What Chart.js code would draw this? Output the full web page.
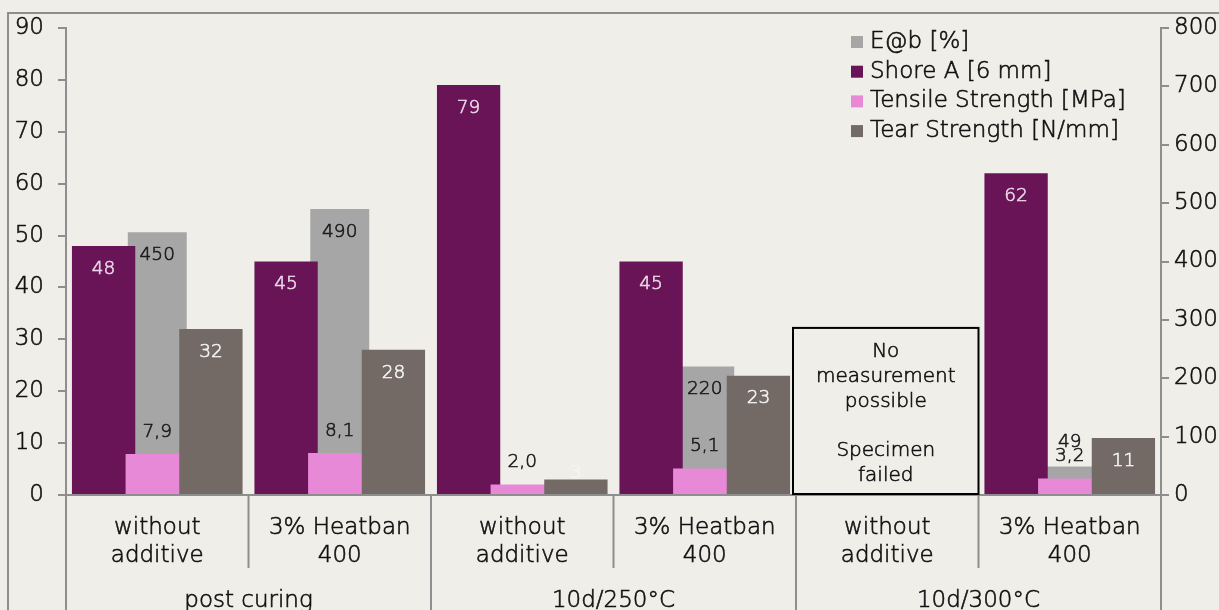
<!DOCTYPE html>
<html>
<head>
<meta charset="utf-8">
<script src="https://cdn.jsdelivr.net/npm/chart.js@4.4.1/dist/chart.umd.min.js"></script>
<style>
  html, body { margin: 0; padding: 0; overflow: hidden; background: #efeee9; }
  #wrap { width: 1262px; height: 640px; position: relative; }
</style>
</head>
<body>
<div id="wrap"><canvas id="chart"></canvas></div>
<script>
// data
const categories = [
    ['without', 'additive'], ['3% Heatban', '400'],
    ['without', 'additive'], ['3% Heatban', '400'],
    ['without', 'additive'], ['3% Heatban', '400']
];
const groups = ['post curing', '10d/250°C', '10d/300°C'];
const perGroup = 2;

const elongation = [450, 490, null, 220, null, 49];     // E@b [%] (right axis)
const shoreA = [48, 45, 79, 45, null, 62];
const tensile = [7.9, 8.1, 2.0, 5.1, null, 3.2];
const tear = [32, 28, 3, 23, null, 11];

const leftTicks = [0, 10, 20, 30, 40, 50, 60, 70, 80, 90];
const rightTicks = [0, 100, 200, 300, 400, 500, 600, 700, 800];

const noteIndex = 4;
const noteLines = ['No', 'measurement', 'possible', '', 'Specimen', 'failed'];

const FONT = '"DejaVu Sans", sans-serif';
const W = 200;
const TEXT = '#111111';
const AXIS = '#8e8e8e';
const STROKE = 0.6;   // thickens the extra-light face a little

// draw bars in dataset order so later series sit on top (Excel style overlap)
const barOrder = {
    id: 'barOrder',
    beforeDatasetsDraw(chart) {
        chart.getSortedVisibleDatasetMetas().slice()
            .sort((a, b) => a.index - b.index)
            .forEach(m => m.controller.draw());
        return false;
    }
};

const fmt = (v, dec) => dec ? v.toFixed(dec).replace('.', ',') : String(Math.round(v));
const font = size => W + ' ' + size + 'px ' + FONT;

function text(ctx, t, x, y, color) {
    ctx.fillStyle = color;
    ctx.strokeStyle = color;
    ctx.lineWidth = STROKE;
    ctx.fillText(t, x, y);
    ctx.strokeText(t, x, y);
}

const extras = {
    id: 'extras',
    afterDraw(chart) {
        const ctx = chart.ctx;
        const x = chart.scales.x, y = chart.scales.y;
        const area = chart.chartArea;
        const step = (area.right - area.left) / categories.length;
        ctx.save();

        // outer frame
        ctx.strokeStyle = AXIS;
        ctx.lineWidth = 2;
        ctx.beginPath();
        ctx.moveTo(8, chart.height + 5);
        ctx.lineTo(8, 13);
        ctx.lineTo(chart.width - 8, 13);
        ctx.stroke();

        // category dividers + group labels
        for (let i = 0; i <= categories.length; i++) {
            const px = area.left + i * step;
            const isGroup = i % perGroup === 0;
            ctx.beginPath();
            ctx.moveTo(px, area.bottom);
            ctx.lineTo(px, isGroup ? chart.height : area.bottom + 73);
            ctx.stroke();
        }
        ctx.font = font(23);
        ctx.textAlign = 'center';
        ctx.textBaseline = 'middle';
        groups.forEach((g, i) => {
            const cx = area.left + (i * perGroup + perGroup / 2) * step;
            text(ctx, g, cx, area.bottom + 106, TEXT);
        });

        // value labels
        chart.data.datasets.forEach((ds, di) => {
            const meta = chart.getDatasetMeta(di);
            ctx.font = font(18.5);
            meta.data.forEach((el, i) => {
                const v = ds.data[i];
                if (v === null || v === undefined) return;
                const h = el.base - el.y;
                let ly;
                if (ds.labelPos === 'outside') ly = el.y - 22;
                else if (ds.labelPos === 'insideOrAbove') ly = h < 40 ? el.y - 24 : el.y + 23;
                else ly = Math.min(el.y + 23, el.base - 21);
                text(ctx, fmt(v, ds.decimals), el.x, ly, ds.labelColor);
            });
        });

        // note box for failed specimen
        const nx = x.getPixelForValue(noteIndex);
        const left = nx - step / 2 - 3, right = nx + step / 2;
        const top = y.getPixelForValue(32.2);
        ctx.strokeStyle = '#000';
        ctx.lineWidth = 2;
        ctx.strokeRect(left, top, right - left, area.bottom - 1 - top);
        ctx.font = font(20);
        noteLines.forEach((t, i) => text(ctx, t, (left + right) / 2, top + 24 + i * 24.7, TEXT));

        // legend inside the plot
        ctx.textAlign = 'left';
        ctx.font = font(23);
        chart.data.datasets.forEach((ds, i) => {
            const ry = 42 + i * 29.7;
            ctx.fillStyle = ds.backgroundColor;
            ctx.fillRect(851, ry - 6, 12, 12);
            text(ctx, ds.label, 870, ry, TEXT);
        });
        ctx.restore();
    }
};

const grpOpts = { categoryPercentage: 0.882, barPercentage: 1.18 };
const tickFont = { family: FONT, size: 23, weight: W };

new Chart(document.getElementById('chart'), {
    type: 'bar',
    data: {
        labels: categories,
        datasets: [
            {
                label: 'E@b [%]', data: elongation, yAxisID: 'y1',
                backgroundColor: '#a6a6a6', grouped: false,
                categoryPercentage: 0.323, barPercentage: 1,
                labelColor: '#1a1a1a', labelPos: 'insideOrAbove', decimals: 0
            },
            {
                label: 'Shore A [6 mm]', data: shoreA, yAxisID: 'y',
                backgroundColor: '#6a1458', ...grpOpts,
                labelColor: '#ead6e6', labelPos: 'inside', decimals: 0
            },
            {
                label: 'Tensile Strength [MPa]', data: tensile, yAxisID: 'y',
                backgroundColor: '#e889d8', ...grpOpts,
                labelColor: '#1a1a1a', labelPos: 'outside', decimals: 1
            },
            {
                label: 'Tear Strength [N/mm]', data: tear, yAxisID: 'y',
                backgroundColor: '#736a65', ...grpOpts,
                labelColor: '#f4f4f4', labelPos: 'inside', decimals: 0
            }
        ]
    },
    options: {
        responsive: true,
        maintainAspectRatio: false,
        animation: false,
        layout: { padding: { top: 28, left: 0, right: 0, bottom: 0 } },
        plugins: { legend: { display: false }, tooltip: { enabled: false } },
        scales: {
            x: {
                grid: { display: false, drawTicks: false },
                border: { color: AXIS, width: 2 },
                ticks: {
                    color: TEXT, padding: 19, maxRotation: 0, autoSkip: false,
                    textStrokeColor: TEXT, textStrokeWidth: STROKE,
                    font: { ...tickFont, lineHeight: 1.22 }
                },
                afterFit: s => { s.height = 145; }
            },
            y: {
                position: 'left', min: 0, max: 90,
                afterBuildTicks: s => { s.ticks = leftTicks.map(v => ({ value: v })); },
                grid: { drawOnChartArea: false, color: AXIS, lineWidth: 2, tickLength: 8 },
                border: { color: AXIS, width: 2 },
                ticks: { color: TEXT, padding: 14, textStrokeColor: TEXT, textStrokeWidth: STROKE, font: tickFont },
                afterFit: s => { s.width = 66; }
            },
            y1: {
                position: 'right', min: 0, max: 800,
                afterBuildTicks: s => { s.ticks = rightTicks.map(v => ({ value: v })); },
                grid: { drawOnChartArea: false, color: AXIS, lineWidth: 2, tickLength: 8 },
                border: { color: AXIS, width: 2 },
                ticks: { color: TEXT, padding: 5, textStrokeColor: TEXT, textStrokeWidth: STROKE, font: tickFont },
                afterFit: s => { s.width = 101; }
            }
        }
    },
    plugins: [barOrder, extras]
});
</script>
</body>
</html>
